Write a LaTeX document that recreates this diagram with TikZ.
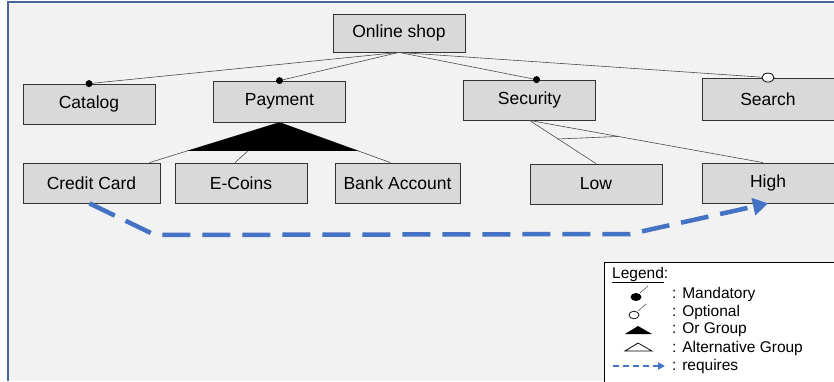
\documentclass[tikz,border=0pt]{standalone}
\usepackage{fontspec}
\setmainfont{Liberation Sans}
\usetikzlibrary{arrows.meta,calc}

\definecolor{canvas}{RGB}{242,242,242}
\definecolor{framecol}{RGB}{72,102,150}
\definecolor{boxgray}{RGB}{217,217,217}
\definecolor{reqblue}{RGB}{68,114,196}

\begin{document}
\begin{tikzpicture}
    [x=1pt, y=-1pt,
    every node/.style={font=\fontsize{17.5}{20}\selectfont},
    feature/.style={draw=black!80, fill=boxgray, line width=0.8pt,
        minimum width=132pt, minimum height=40pt, inner sep=0pt},
    edge/.style={draw=black!70, line width=0.6pt},
    legendtext/.style={anchor=west, inner sep=0pt, font=\fontsize{15.5}{18}\selectfont},
    requires/.style={reqblue, line width=4.5pt, dash pattern=on 28pt off 12pt,
        -{Triangle[length=15pt, width=17pt]}}
    ]
    \useasboundingbox (0,0) rectangle (834,381);
    \fill[white] (0,0) rectangle (834,381);
    \fill[canvas] (8,2) rectangle (834,381);
    \draw[framecol, line width=1.5pt] (8,381) -- (8,2) -- (834,2);

    % features
    \node[feature, minimum height=38pt] (shop) at (399,33) {Online shop};
    \node[feature] (catalog) at (89,104) {Catalog};
    \node[feature, minimum height=41pt] (payment) at (279.5,101.5) {Payment};
    \node[feature] (security) at (529.5,100) {Security};
    \node[feature, minimum height=42pt] (search) at (768,99) {Search};
    \node[feature, minimum width=137pt] (credit) at (91.5,183) {Credit Card};
    \node[feature] (ecoins) at (241,183) {E-Coins};
    \node[feature, minimum width=125pt] (bank) at (397.5,183) {Bank Account};
    \node[feature] (low) at (596,184) {Low};
    \node[feature] (high) at (768,183) {High};

    % mandatory / optional
    \coordinate (secdot) at ($(security.north)+(7,0)$);
    \draw[edge] (shop.south) -- (catalog.north);
    \draw[edge] (shop.south) -- (payment.north);
    \draw[edge] (shop.south) -- (secdot);
    \draw[edge] (shop.south) -- (search.north);
    \fill (catalog.north) circle (3.5pt);
    \fill (payment.north) circle (3.5pt);
    \fill (secdot) circle (3.5pt);
    \draw[black, line width=0.8pt, fill=white] (search.north) ellipse (6pt and 4.5pt);

    % or group
    \coordinate (cctop) at ($(credit.north)+(58,0)$);
    \coordinate (ectop) at ($(ecoins.north)+(-6,0)$);
    \coordinate (batop) at ($(bank.north)+(-7,0)$);
    \draw[edge] (payment.south) -- (cctop);
    \draw[edge] (payment.south) -- (ectop);
    \draw[edge] (payment.south) -- (batop);
    \fill (payment.south) -- ($(payment.south)!0.71!(cctop)$)
        -- ($(payment.south)!0.71!(batop)$) -- cycle;

    % alternative group
    \draw[edge] (security.south) -- (low.north);
    \draw[edge] (security.south) -- ($(high.north)+(-5,0)$);
    \draw[edge] ($(security.south)!0.43!(low.north)$)
        -- ($(security.south)!0.38!($(high.north)+(-5,0)$)$);

    % requires
    \coordinate (bend1) at (155,235);
    \coordinate (bend2) at (630,234);
    \draw[requires] ($(credit.south)+(-2,0)$) -- (bend1) -- (bend2) -- (high.south);

    % legend
    \draw[black, line width=0.8pt, fill=white] (604,262) rectangle (840,390);
    \node[legendtext] (legtitle) at (612,275) {\underline{Legend}:};
    \node[legendtext] (legman) at (672,294) {: Mandatory};
    \node[legendtext] (legopt) at (672,312) {: Optional};
    \node[legendtext] (legor) at (672,330) {: Or Group};
    \node[legendtext] (legalt) at (672,348) {: Alternative Group};
    \node[legendtext] (legreq) at (672,366) {: requires};
    \fill (636,297) ellipse (5.5pt and 4pt);
    \draw[black!70, line width=0.5pt] (640,293) -- (648,286);
    \draw[black, line width=0.7pt] (634,315) ellipse (5pt and 3.8pt);
    \draw[black!70, line width=0.5pt] (638,311) -- (646,304);
    \fill (625,334) -- (638,326) -- (652,334) -- cycle;
    \draw[black, line width=0.8pt] (625,351) -- (638,343) -- (652,351) -- cycle;
    \draw[reqblue, line width=2pt, dash pattern=on 6pt off 4pt,
        -{Triangle[length=7pt, width=7pt]}] (613,366) -- (665,366);
\end{tikzpicture}
\end{document}
